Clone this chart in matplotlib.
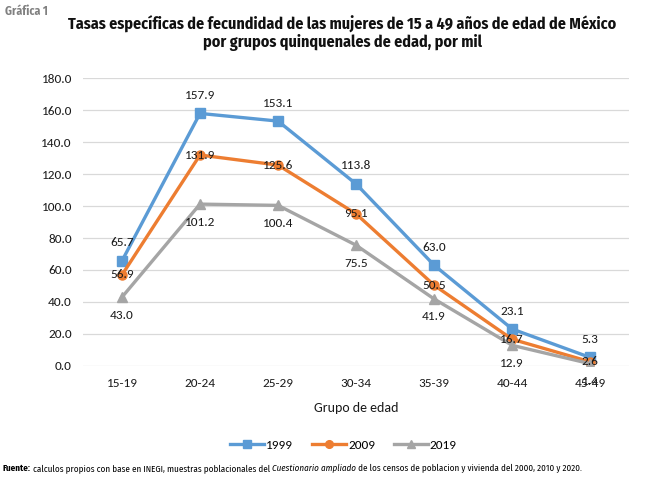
import matplotlib
matplotlib.use("Agg")
import matplotlib.pyplot as plt
from matplotlib import font_manager as fm

categories = ["15-19", "20-24", "25-29", "30-34", "35-39", "40-44", "45-49"]
s1999 = [65.7, 157.9, 153.1, 113.8, 63.0, 23.1, 5.3]
s2009 = [56.9, 131.9, 125.6, 95.1, 50.5, 16.7, 2.6]
s2019 = [43.0, 101.2, 100.4, 75.5, 41.9, 12.9, 1.4]
yticks = [0, 20, 40, 60, 80, 100, 120, 140, 160, 180]

names = {f.name for f in fm.fontManager.ttflist}
def pick(*cands):
    for c in cands:
        if c in names:
            return c
    return "DejaVu Sans"
narrow = pick("Fira Sans Condensed", "Roboto Condensed", "Archivo Narrow", "Asap Condensed")
body = pick("Carlito", "Lato")

fig = plt.figure(figsize=(6.48, 4.79), dpi=100)
ax = fig.add_axes([0.128, 0.236, 0.843, 0.601])

x = list(range(len(categories)))
ax.plot(x, s1999, color="#5B9BD5", lw=2.4, marker="s", ms=6.5, label="1999", zorder=3)
ax.plot(x, s2009, color="#ED7D31", lw=2.4, marker="o", ms=6.5, label="2009", zorder=3)
ax.plot(x, s2019, color="#A5A5A5", lw=2.4, marker="^", ms=6.5, label="2019", zorder=3)

fs = 9.5
for i, v in enumerate(s1999):
    ax.annotate(f"{v:.1f}", (i, v), xytext=(0, 9), textcoords="offset points",
                ha="center", va="bottom", fontsize=fs, family=body, color="#1a1a1a")
for i, v in enumerate(s2009):
    ax.annotate(f"{v:.1f}", (i, v), xytext=(0, 0), textcoords="offset points",
                ha="center", va="center", fontsize=fs, family=body, color="#1a1a1a", zorder=4)
for i, v in enumerate(s2019):
    ax.annotate(f"{v:.1f}", (i, v), xytext=(0, -9), textcoords="offset points",
                ha="center", va="top", fontsize=fs, family=body, color="#1a1a1a")

ax.set_xlim(-0.5, len(categories) - 0.5)
ax.set_ylim(0, 180)
ax.set_yticks(yticks)
ax.set_yticklabels([f"{t:.1f}" for t in yticks], family=body, fontsize=fs, color="#1a1a1a")
ax.set_xticks(x)
ax.set_xticklabels(categories, family=body, fontsize=fs, color="#1a1a1a")
ax.tick_params(axis="x", length=0, pad=9)
ax.tick_params(axis="y", length=0, pad=8)
ax.grid(axis="y", color="#D9D9D9", lw=0.9)
ax.set_axisbelow(True)
for s in ax.spines.values():
    s.set_visible(False)
ax.set_xlabel("Grupo de edad", family=body, fontsize=10, color="#1a1a1a", labelpad=9)

leg = fig.legend(loc="center", bbox_to_anchor=(0.53, 0.07), ncol=3, frameon=False,
                 prop={"family": body, "size": 9.5}, handlelength=2.6, columnspacing=1.4,
                 handletextpad=0.15, markerscale=0.85)

fig.text(0.008, 0.99, "Gráfica 1", ha="left", va="top", family=narrow, fontsize=8.5,
         fontweight="bold", color="#808080")
fig.text(0.528, 0.968, "Tasas específicas de fecundidad de las mujeres de 15 a 49 años de edad de México\npor grupos quinquenales de edad, por mil",
         ha="center", va="top", family=narrow, fontsize=11.5, fontweight="bold",
         color="#111111", linespacing=1.12)

fig.canvas.draw()
r = fig.canvas.get_renderer()
yf = 0.022
fsz = 6.5
t0 = fig.text(0.004, yf, "Fuente:", ha="left", va="center", fontsize=fsz, family=narrow,
              fontweight="bold")
x1 = t0.get_window_extent(r).x1 / fig.bbox.width + 0.003
t1 = fig.text(x1, yf, "calculos propios con base en INEGI, muestras poblacionales del ",
              ha="left", va="center", fontsize=fsz, family=narrow)
x2 = t1.get_window_extent(r).x1 / fig.bbox.width
t2 = fig.text(x2, yf, "Cuestionario ampliado", ha="left", va="center", fontsize=fsz,
              family=narrow, style="italic")
x3 = t2.get_window_extent(r).x1 / fig.bbox.width
fig.text(x3, yf, " de los censos de poblacion y vivienda del 2000, 2010 y 2020.",
         ha="left", va="center", fontsize=fsz, family=narrow)

fig.savefig("out.png", dpi=100)
